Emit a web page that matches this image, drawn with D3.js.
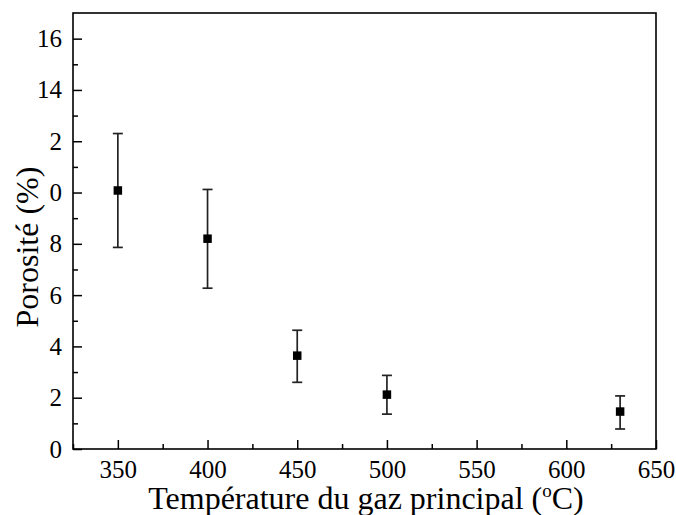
<!DOCTYPE html>
<html><head><meta charset="utf-8">
<script src="https://cdn.jsdelivr.net/npm/d3@7"></script>
<style>body{margin:0;background:#fff}svg{display:block}</style>
</head><body>
<svg id="c" width="676" height="515"></svg>
<script>
const temps = [350, 400, 450, 500, 630];
const porosity = [10.08, 8.2, 3.64, 2.12, 1.46];
const errUpper = [12.3, 10.12, 4.63, 2.87, 2.07];
const errLower = [7.86, 6.27, 2.6, 1.36, 0.78];
const xTicks = [350, 400, 450, 500, 550, 600, 650];
const yTicks = [0, 2, 4, 6, 8, 10, 12, 14, 16];
const yTickLabels = ["0", "2", "4", "6", "8", "0", "2", "14", "16"];

const FONT = '"Liberation Serif"';
const svg = d3.select("#c").style("font-family", FONT);
const L = 73, R = 656, T = 13, B = 449;
const x = d3.scaleLinear().domain([325, 650]).range([L, R]);
const y = d3.scaleLinear().domain([0, 17]).range([B, T]);

// frame
svg.append("rect").attr("x", L).attr("y", T).attr("width", R - L).attr("height", B - T)
  .attr("fill", "none").attr("stroke", "#000").attr("stroke-width", 1.6);

// x axis
const xMinor = d3.range(325, 651, 25).filter(v => v % 50 !== 0);
const gx = svg.append("g").attr("transform", `translate(0,${B})`);
gx.call(d3.axisBottom(x).tickValues(xMinor).tickSize(-5).tickFormat(""));
const gx2 = svg.append("g").attr("transform", `translate(0,${B})`);
gx2.call(d3.axisBottom(x).tickValues(xTicks).tickSize(-9).tickFormat(d3.format("d")));
[gx, gx2].forEach(g => { g.select(".domain").remove(); g.selectAll("line").attr("stroke", "#000").attr("stroke-width", 1.5); });
gx2.selectAll("text").style("font-family", FONT).style("font-size", "25px").attr("fill", "#000").attr("dy", "0.35em").attr("y", 20);

// y axis
const yMinor = d3.range(1, 17, 2);
const gy = svg.append("g").attr("transform", `translate(${L},0)`);
gy.call(d3.axisLeft(y).tickValues(yMinor).tickSize(-5).tickFormat(""));
const gy2 = svg.append("g").attr("transform", `translate(${L},0)`);
gy2.call(d3.axisLeft(y).tickValues(yTicks).tickSize(-9).tickFormat((d, i) => yTickLabels[i]));
[gy, gy2].forEach(g => { g.select(".domain").remove(); g.selectAll("line").attr("stroke", "#000").attr("stroke-width", 1.5); });
gy2.selectAll("text").style("font-family", FONT).style("font-size", "25px").attr("fill", "#000").attr("x", -11);

// error bars
const data = temps.map((t, i) => ({t, v: porosity[i], hi: errUpper[i], lo: errLower[i]}));
const eb = svg.append("g").attr("stroke", "#222").attr("stroke-width", 1.7);
eb.selectAll("line.v").data(data).join("line").attr("class", "v")
  .attr("x1", d => x(d.t)).attr("x2", d => x(d.t)).attr("y1", d => y(d.hi)).attr("y2", d => y(d.lo));
eb.selectAll("line.hi").data(data).join("line").attr("class", "hi")
  .attr("x1", d => x(d.t) - 5).attr("x2", d => x(d.t) + 5).attr("y1", d => y(d.hi)).attr("y2", d => y(d.hi));
eb.selectAll("line.lo").data(data).join("line").attr("class", "lo")
  .attr("x1", d => x(d.t) - 5).attr("x2", d => x(d.t) + 5).attr("y1", d => y(d.lo)).attr("y2", d => y(d.lo));

// points
svg.append("g").selectAll("rect").data(data).join("rect")
  .attr("x", d => x(d.t) - 4.25).attr("y", d => y(d.v) - 4.25).attr("width", 8.5).attr("height", 8.5).attr("fill", "#000");

// titles
const xt = svg.append("text").attr("x", 366).attr("y", 509).attr("text-anchor", "middle")
  .style("font-family", FONT).style("font-size", "32px").attr("fill", "#000");
xt.append("tspan").text("Température du gaz principal (");
xt.append("tspan").style("font-size", "19px").attr("dy", -12).text("o");
xt.append("tspan").attr("dy", 12).text("C)");

svg.append("text").attr("transform", `translate(38,247) rotate(-90)`)
  .attr("text-anchor", "middle").style("font-family", FONT).style("font-size", "32px").attr("fill", "#000").text("Porosité (%)");
</script>
</body></html>
